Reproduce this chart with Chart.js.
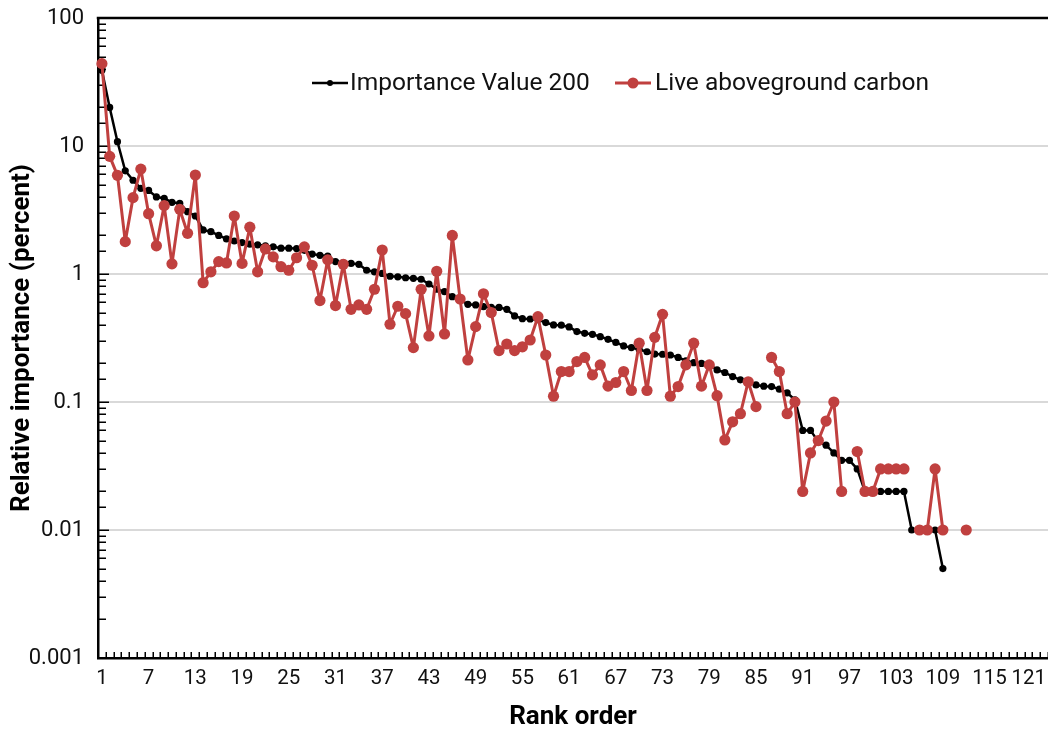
<!DOCTYPE html>
<html><head><meta charset="utf-8">
<script src="https://cdn.jsdelivr.net/npm/chart.js@4.4.0/dist/chart.umd.min.js"></script>
<style>html,body{margin:0;padding:0;background:#fff;}</style>
</head><body>
<canvas id="c" width="1048" height="732" style="display:block;width:1048px;height:732px"></canvas>
<script>
const ranks = [1,2,3,4,5,6,7,8,9,10,11,12,13,14,15,16,17,18,19,20,21,22,23,24,25,26,27,28,29,30,
31,32,33,34,35,36,37,38,39,40,41,42,43,44,45,46,47,48,49,50,51,52,53,54,55,56,57,58,59,60,
61,62,63,64,65,66,67,68,69,70,71,72,73,74,75,76,77,78,79,80,81,82,83,84,85,86,87,88,89,90,
91,92,93,94,95,96,97,98,99,100,101,102,103,104,105,106,107,108,109,110,111,112,113,114,115,116,117,118,119,120,
121,122];
const xTickShown = [1,7,13,19,25,31,37,43,49,55,61,67,73,79,85,91,97,103,109,115,121];
const yTickValues = [0.001,0.01,0.1,1,10,100];
const yTickLabels = ['0.001','0.01','0.1','1','10','100'];
const seriesNames = ['Importance Value 200','Live aboveground carbon'];

const importanceValue200 = [39, 20, 10.8, 6.4, 5.4, 4.67, 4.5, 4.0, 3.9, 3.63,
 3.56, 3.07, 2.84, 2.21, 2.14, 2.0, 1.88, 1.81, 1.76, 1.71,
 1.69, 1.66, 1.63, 1.59, 1.59, 1.58, 1.53, 1.43, 1.40, 1.38,
 1.25, 1.22, 1.21, 1.19, 1.07, 1.04, 1.01, 0.96, 0.95, 0.935,
 0.925, 0.91, 0.835, 0.76, 0.727, 0.665, 0.627, 0.58, 0.573, 0.556,
 0.55, 0.548, 0.53, 0.47, 0.448, 0.445, 0.44, 0.417, 0.40, 0.398,
 0.386, 0.355, 0.344, 0.338, 0.324, 0.309, 0.292, 0.274, 0.266, 0.257,
 0.247, 0.237, 0.236, 0.233, 0.223, 0.21, 0.203, 0.20, 0.198, 0.178,
 0.17, 0.158, 0.149, 0.142, 0.136, 0.133, 0.132, 0.126, 0.118, 0.104,
 0.060, 0.060, 0.049, 0.046, 0.040, 0.035, 0.035, 0.030, 0.02, 0.02,
 0.02, 0.02, 0.02, 0.02, 0.01, 0.01, 0.01, 0.01, 0.005];

const liveAbovegroundCarbon = [44, 8.3, 5.9, 1.79, 3.95, 6.6, 2.96, 1.66, 3.42, 1.2,
 3.2, 2.08, 5.93, 0.855, 1.04, 1.25, 1.22, 2.84, 1.21, 2.32,
 1.04, 1.57, 1.36, 1.14, 1.07, 1.34, 1.63, 1.17, 0.62, 1.29,
 0.567, 1.19, 0.53, 0.573, 0.53, 0.76, 1.54, 0.405, 0.56, 0.49,
 0.266, 0.76, 0.328, 1.05, 0.34, 2.0, 0.638, 0.213, 0.388, 0.70,
 0.50, 0.252, 0.284, 0.252, 0.27, 0.305, 0.464, 0.233, 0.111, 0.173,
 0.173, 0.207, 0.223, 0.163, 0.195, 0.133, 0.142, 0.173, 0.123, 0.288,
 0.123, 0.32, 0.484, 0.111, 0.132, 0.195, 0.288, 0.133, 0.195, 0.112,
 0.0505, 0.070, 0.081, 0.144, 0.092, null, 0.223, 0.173, 0.081, 0.10,
 0.02, 0.040, 0.050, 0.071, 0.10, 0.02, null, 0.041, 0.02, 0.02,
 0.03, 0.03, 0.03, 0.03, null, 0.01, 0.01, 0.03, 0.01, null,
 null, 0.01];

const FONT = 'Roboto, "Liberation Sans", Arial, sans-serif';
const RED = '#C0403F';
const TEXT = '#111111';

const innerTicks = {
  id: 'innerTicks',
  beforeDatasetsDraw(chart) {
    const {ctx, chartArea: {left, top, bottom}, scales: {x, y}} = chart;
    ctx.save();
    ctx.strokeStyle = '#000';
    ctx.lineWidth = 1.5;
    ctx.beginPath();
    const n = x.ticks.length;
    const step = x.getPixelForTick(1) - x.getPixelForTick(0);
    for (let i = 1; i <= n; i++) {
      const px = Math.round(x.getPixelForTick(0) - step / 2 + i * step) + 0.25;
      ctx.moveTo(px, bottom);
      ctx.lineTo(px, bottom - 6);
    }
    y.ticks.forEach((t, i) => {
      const py = Math.round(y.getPixelForTick(i)) + 0.25;
      const major = yTickValues.some(v => Math.abs(v - t.value) / v < 1e-6);
      ctx.moveTo(left, py);
      ctx.lineTo(left + (major ? 11 : 8), py);
    });
    ctx.stroke();
    ctx.lineWidth = 2.5;
    ctx.beginPath();
    ctx.moveTo(left - 1.25, top);
    ctx.lineTo(chart.width, top);
    ctx.stroke();
    ctx.restore();
  }
};

const insideLegend = {
  id: 'insideLegend',
  afterDatasetsDraw(chart) {
    const {ctx} = chart;
    const spots = [{x: 312, w: 36, tx: 350}, {x: 615, w: 36, tx: 655}];
    const ly = 83;
    ctx.save();
    chart.data.datasets.forEach((ds, i) => {
      const s = spots[i];
      ctx.strokeStyle = ds.borderColor;
      ctx.lineWidth = ds.borderWidth;
      ctx.beginPath();
      ctx.moveTo(s.x, ly);
      ctx.lineTo(s.x + s.w, ly);
      ctx.stroke();
      ctx.fillStyle = ds.pointBackgroundColor;
      ctx.beginPath();
      ctx.arc(s.x + s.w / 2, ly, i === 0 ? 3 : 5.5, 0, Math.PI * 2);
      ctx.fill();
      ctx.fillStyle = TEXT;
      ctx.font = '24.5px ' + FONT;
      ctx.textBaseline = 'middle';
      ctx.textAlign = 'left';
      ctx.fillText(ds.label, s.tx, ly + 1);
    });
    ctx.restore();
  }
};

new Chart(document.getElementById('c'), {
  type: 'line',
  data: {
    labels: ranks,
    datasets: [
      {
        label: seriesNames[0],
        data: importanceValue200,
        borderColor: '#000',
        backgroundColor: '#000',
        pointBackgroundColor: '#000',
        pointBorderColor: '#000',
        borderWidth: 2.5,
        borderJoinStyle: 'round',
        pointRadius: 3.6,
        pointBorderWidth: 0,
        tension: 0,
        spanGaps: false,
        clip: false,
        order: 1
      },
      {
        label: seriesNames[1],
        data: liveAbovegroundCarbon,
        borderColor: RED,
        backgroundColor: RED,
        pointBackgroundColor: RED,
        pointBorderColor: RED,
        borderWidth: 3,
        borderJoinStyle: 'round',
        pointRadius: 5.6,
        pointBorderWidth: 0,
        tension: 0,
        spanGaps: false,
        clip: false,
        order: 0
      }
    ]
  },
  options: {
    responsive: false,
    animation: false,
    devicePixelRatio: 1,
    layout: {autoPadding: false, padding: {left: 0, right: 0, top: 18, bottom: 0}},
    plugins: {legend: {display: false}, tooltip: {enabled: false}},
    scales: {
      x: {
        type: 'category',
        offset: true,
        grid: {display: false, drawTicks: false},
        border: {display: true, color: '#000', width: 2.5},
        ticks: {
          autoSkip: false, maxRotation: 0, minRotation: 0, padding: 9,
          color: TEXT, font: {family: FONT, size: 20.5},
          callback(val) {
            const lab = Number(this.getLabelForValue(val));
            if (!xTickShown.includes(lab)) return '';
            // keep the last shown label inside the canvas, as in the original
            return lab === xTickShown[xTickShown.length - 1] ? String(lab) + '\u00a0\u00a0\u00a0' : String(lab);
          }
        },
        title: {display: true, text: 'Rank order', color: '#000',
          font: {family: FONT, size: 26, weight: 'bold', lineHeight: 1.1}, padding: {top: 0, bottom: 0}},
        afterFit(s) { s.height = 74; s.paddingLeft = 0; s.paddingRight = 0; }
      },
      y: {
        type: 'logarithmic',
        min: 0.001, max: 100,
        grid: {
          drawTicks: false, lineWidth: 2,
          color(ctx) {
            const v = ctx.tick && ctx.tick.value;
            if (v === undefined) return 'rgba(0,0,0,0)';
            const major = yTickValues.some(t => Math.abs(t - v) / t < 1e-6);
            return (major && v > 0.0011 && v < 99) ? '#D9D9D9' : 'rgba(0,0,0,0)';
          }
        },
        border: {display: true, color: '#000', width: 2.5},
        ticks: {
          autoSkip: false, padding: 14, color: TEXT, font: {family: FONT, size: 22},
          callback(v) {
            const i = yTickValues.findIndex(t => Math.abs(t - v) / t < 1e-6);
            return i >= 0 ? yTickLabels[i] : '';
          }
        },
        title: {display: true, text: 'Relative importance (percent)', color: '#000',
          font: {family: FONT, size: 26, weight: 'bold', lineHeight: 1.1}, padding: {top: 8, bottom: 0}},
        afterFit(s) { s.width = 98; s.paddingTop = 0; s.paddingBottom = 0; }
      }
    }
  },
  plugins: [innerTicks, insideLegend]
});
</script>
</body></html>
